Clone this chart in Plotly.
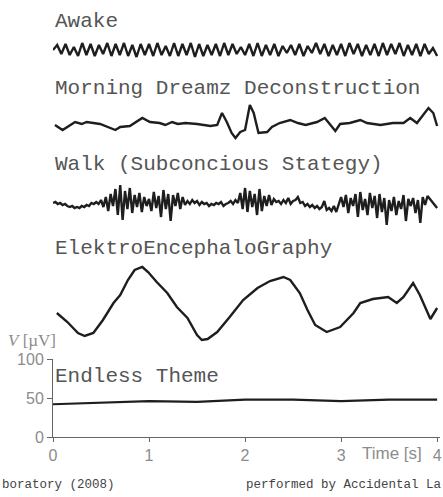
import numpy as np
import plotly.graph_objects as go

# ---------------- data ----------------
titles = ["Awake", "Morning Dreamz Deconstruction", "Walk (Subconcious Stategy)",
          "ElektroEncephaloGraphy", "Endless Theme"]

awake_v = [0, 5, -4, 6, -5, 3, -6, 7, -5, 6, -6, 5, -4, 7, -6, 6, -5, 7, -6, 5,
           -7, 6, -5, 6, -6, 7, -5, 4, -6, 7, -6, 6, -5, 7, -7, 6, -6, 5, -5, 6,
           -6, 7, -5, 6, -4, 3, -5, 6, -6, 7, -6, 5, -5, 6, -6, 4, -3, 5, -5, 6,
           -6, 4, -3, 7, -4, 6, -6, 5, -5, 6, -6, 7, -4, 6, -6, 5, -5, 6, -6, 7,
           -5, 6, -4, 7, -6, 5, -5, 6, -6, 6, -4, 2, -6]

morning_t = [0.02, 0.10, 0.23, 0.30, 0.35, 0.49, 0.65, 0.70, 0.80, 0.93, 1.01, 1.11,
             1.17, 1.24, 1.30, 1.38, 1.50, 1.64, 1.71, 1.76, 1.81, 1.86, 1.90, 1.95,
             2.00, 2.05, 2.09, 2.14, 2.23, 2.28, 2.36, 2.47, 2.55, 2.63, 2.75, 2.83,
             2.89, 2.94, 2.99, 3.09, 3.20, 3.27, 3.41, 3.54, 3.65, 3.72, 3.79, 3.91,
             3.96, 4.00]
morning_v = [-2, -7, 1, -1, 1, -1, -7, -4, -3, 5, 1, 0,
             -2, 1, -1, 0, -1, -3, -2, 10, 1, -10, -15, -9,
             -7, 18, 10, -10, -9, -4, 0, 3, 0, -2, 1, 5,
             -2, -8, -1, 0, 3, 0, -2, 0, 0, 5, 0, 15,
             10, -3]

walk_v = [0, 1, -1, 0, -2, -1, -3, -4, -3, -5, -4, -5, -3, -4, -2, -3, 0, -1, 1, -1,
          3, -4, 6, -8, 9, -3, 14, -12, 18, -17, 12, -6, 15, -10, 8, -4, 10, -9, 6, -3,
          4, -8, 11, -5, 7, -14, 13, -6, 9, -18, 8, -3, 10, -6, 6, -2,
          2, -1, 3, 0, 2, -2, 1, -1, 0, -3, -1, -2, 0, -1, 1, -3, -1, 0, 2, -1, 3, 0,
          10, -6, 15, -9, 12, -4, 9, -12, 14, -8, 7, -3, 8, -2,
          4, 1, 2, -1, 3, 0, 5, -1, 2, 3, 6, 0, 1, -3, -1, -4, -2, -5, -3, -6,
          -4, 2, -7, -5, -8, -3, -9, -2,
          6, -4, 8, -10, 5, -3, 9, -14, 11, -7, 4, -12, 10, -5, 7, -15, 9, -9, 5, -22,
          3, -8, 6, -12, 2, -6, 8, -18, 4, -3, 5, -10, 3, -20, 6, -2,
          7, 4, 1, -3, -5]

eeg_t = [0.04, 0.15, 0.26, 0.33, 0.42, 0.52, 0.63, 0.70, 0.78, 0.85, 0.93, 0.99,
         1.08, 1.19, 1.29, 1.40, 1.50, 1.55, 1.61, 1.71, 1.84, 1.98, 2.13, 2.26,
         2.40, 2.47, 2.57, 2.65, 2.73, 2.85, 2.99, 3.13, 3.20, 3.33, 3.49, 3.58,
         3.65, 3.75, 3.82, 3.93, 4.00]
eeg_v = [-8, -17, -28, -31, -28, -15, 2, 10, 25, 35, 38, 33,
         23, 12, -2, -13, -30, -35, -34, -27, -12, 5, 17, 24,
         28, 25, 12, -5, -20, -27, -22, -8, 2, 6, 8, 2,
         8, 22, 10, -14, -3]

endless_t = [0.0, 0.3, 0.6, 1.0, 1.5, 2.0, 2.5, 3.0, 3.5, 4.0]
endless_v = [42, 43, 44, 46, 45, 48, 48, 46, 48, 48]

x_ticks = [0, 1, 2, 3, 4]
y_ticks = [0, 50, 100]
credit_left = "boratory (2008)"
credit_right = "performed by Accidental La"

# ---------------- layout helpers ----------------
H = 497.0
def f(p):
    return (H - p) / H

TRACE = "#1e1e1e"
TITLE_C = "#555555"
TICK_C = "#8c8c8c"
MONO = "Liberation Mono, Courier New, monospace"

fig = go.Figure()

# upper traces on their own hidden axes (centre pixel, half height)
bands = [(50, 20), (123, 26), (203, 32), (305, 46)]
series = [
    (np.linspace(0, 4, len(awake_v)), awake_v),
    (morning_t, morning_v),
    (np.linspace(0, 4, len(walk_v)), walk_v),
    (eeg_t, eeg_v),
]
for i, ((c, h), (tx, vy)) in enumerate(zip(bands, series)):
    yname = "y%d" % (i + 2)
    fig.add_trace(go.Scatter(x=tx, y=vy, mode="lines", yaxis=yname,
                             line=dict(color=TRACE, width=2.4), hoverinfo="skip",
                             showlegend=False))
    fig.layout["yaxis%d" % (i + 2)] = dict(domain=[f(c + h), f(c - h)], range=[-h, h],
                                           visible=False, anchor="x", fixedrange=True)

fig.add_trace(go.Scatter(x=endless_t, y=endless_v, mode="lines",
                         line=dict(color=TRACE, width=2.2), showlegend=False))

fig.update_layout(
    width=443, height=497,
    margin=dict(l=53, r=3, t=0, b=0),
    paper_bgcolor="white", plot_bgcolor="white",
    xaxis=dict(range=[0, 4.03], tickvals=x_ticks, ticktext=["0", "1", "2", "3", "4"],
               showgrid=False, zeroline=False, showline=True, linecolor="#666",
               linewidth=1, ticks="outside", ticklen=4, tickcolor="#666",
               tickfont=dict(family="Liberation Sans, Arial", size=16, color=TICK_C),
               anchor="y", automargin=False),
    yaxis=dict(domain=[f(437), f(359)], range=[0, 100], tickvals=y_ticks,
               showgrid=False, zeroline=False, showline=True, linecolor="#666",
               linewidth=1, ticks="outside", ticklen=5, tickcolor="#666",
               tickfont=dict(family="Liberation Sans, Arial", size=16, color=TICK_C),
               automargin=False),
)

title_y = [21, 88, 164, 248, 376]
for t, ty in zip(titles, title_y):
    fig.add_annotation(text=t, xref="paper", yref="paper", x=0.0, y=f(ty),
                       xanchor="left", yanchor="middle", showarrow=False,
                       font=dict(family=MONO, size=21, color=TITLE_C))

fig.add_annotation(text="<i>V</i> [µV]", xref="paper", yref="paper",
                   x=-47 / 387.0, y=f(340), xanchor="left", yanchor="middle",
                   showarrow=False,
                   font=dict(family="Liberation Serif, Times New Roman", size=17,
                             color=TICK_C))
fig.add_annotation(text="Time [s]", xref="x", yref="paper", x=3.53, y=f(453),
                   xanchor="center", yanchor="middle", showarrow=False,
                   font=dict(family="Liberation Sans, Arial", size=17, color=TICK_C))
fig.add_annotation(text=credit_left, xref="paper", yref="paper", x=-53 / 387.0,
                   y=f(485), xanchor="left", yanchor="middle", showarrow=False,
                   font=dict(family=MONO, size=12.5, color="#444"))
fig.add_annotation(text=credit_right, xref="paper", yref="paper",
                   x=(244 - 53) / 387.0, y=f(485), xanchor="left", yanchor="middle",
                   showarrow=False, font=dict(family=MONO, size=12.5, color="#444"))

fig.write_html("out.html", config={"displayModeBar": False},
               post_script="document.body.style.margin='0';document.body.style.overflow='hidden';")
